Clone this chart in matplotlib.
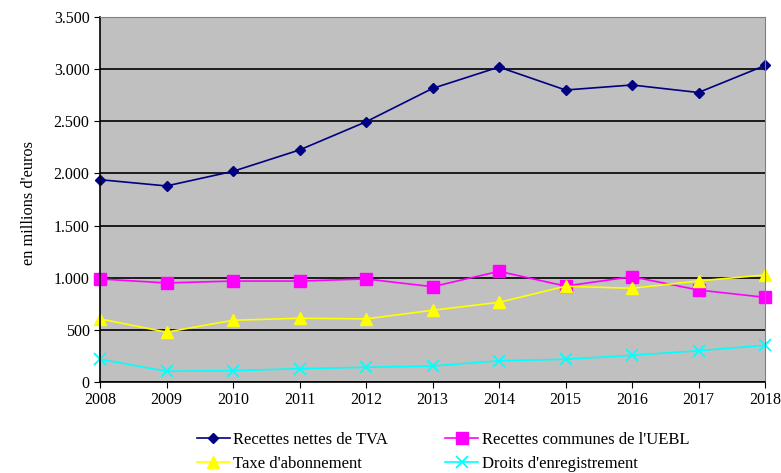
import matplotlib
matplotlib.use("Agg")
import matplotlib.pyplot as plt
from matplotlib.ticker import FuncFormatter

years = [2008, 2009, 2010, 2011, 2012, 2013, 2014, 2015, 2016, 2017, 2018]
tva = [1940, 1880, 2020, 2225, 2495, 2815, 3020, 2800, 2848, 2776, 3035]
uebl = [988, 950, 968, 968, 988, 914, 1061, 920, 1010, 882, 812]
taxe = [605, 478, 592, 611, 605, 688, 764, 918, 899, 969, 1027]
droits = [218, 103, 108, 128, 141, 153, 204, 218, 256, 300, 352]
labels = ["Recettes nettes de TVA", "Recettes communes de l'UEBL",
          "Taxe d'abonnement", "Droits d'enregistrement"]

plt.rcParams['font.family'] = ['Liberation Serif', 'DejaVu Serif']

fig = plt.figure(figsize=(7.81, 4.73), dpi=100)
ax = fig.add_axes([100/781, 1-382/473, 665/781, 365/473])
ax.set_facecolor('#C0C0C0')

l1, = ax.plot(years, tva, color='#000080', marker='D', markersize=5, lw=1.2, label=labels[0])
l2, = ax.plot(years, uebl, color='#FF00FF', marker='s', markersize=8, lw=1.2, label=labels[1])
l3, = ax.plot(years, taxe, color='#FFFF00', marker='^', markersize=8, lw=1.2, label=labels[2])
l4, = ax.plot(years, droits, color='#00FFFF', marker='x', markersize=8, mew=1.3, lw=1.2, label=labels[3])

ax.set_xlim(2008, 2018)
ax.set_ylim(0, 3500)
ax.set_xticks(years)
ax.set_yticks(range(0, 3501, 500))
ax.yaxis.set_major_formatter(FuncFormatter(lambda v, p: f"{int(v):,}".replace(",", ".")))
ax.grid(axis='y', color='black', lw=1.2)
ax.set_axisbelow(True)
for l in (l1, l2, l3, l4):
    l.set_clip_on(False)

ax.tick_params(axis='both', direction='out', length=4, labelsize=11.5, colors='black')
ax.spines['left'].set_color('black')
ax.spines['bottom'].set_color('black')
ax.spines['left'].set_linewidth(1.2)
ax.spines['bottom'].set_linewidth(1.2)
ax.spines['top'].set_color('#808080')
ax.spines['right'].set_color('#808080')

ax.set_ylabel("en millions d'euros", fontsize=11.8)
ax.yaxis.set_label_coords(-0.095, 0.49)

fig.legend(handles=[l1, l3, l2, l4], loc='upper left', bbox_to_anchor=(185/781, 1-420/473),
           ncol=2, frameon=False, fontsize=12, columnspacing=3.4, handlelength=2.0,
           handletextpad=0.2, labelspacing=0.5, borderpad=0.2)

fig.savefig("out.png", dpi=100)
